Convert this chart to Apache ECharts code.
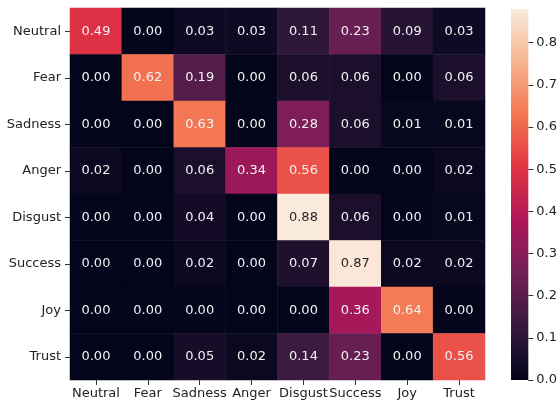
<!DOCTYPE html>
<html>
<head>
<meta charset="utf-8">
<script src="https://cdn.jsdelivr.net/npm/echarts@6/dist/echarts.min.js"></script>
<style>html,body{margin:0;padding:0;background:#fff;}#c{width:560px;height:405px;}</style>
</head>
<body>
<div id="c"></div>
<script>
var categories = ['Neutral','Fear','Sadness','Anger','Disgust','Success','Joy','Trust'];
var row_Neutral = [0.49,0.00,0.03,0.03,0.11,0.23,0.09,0.03];
var row_Fear    = [0.00,0.62,0.19,0.00,0.06,0.06,0.00,0.06];
var row_Sadness = [0.00,0.00,0.63,0.00,0.28,0.06,0.01,0.01];
var row_Anger   = [0.02,0.00,0.06,0.34,0.56,0.00,0.00,0.02];
var row_Disgust = [0.00,0.00,0.04,0.00,0.88,0.06,0.00,0.01];
var row_Success = [0.00,0.00,0.02,0.00,0.07,0.87,0.02,0.02];
var row_Joy     = [0.00,0.00,0.00,0.00,0.00,0.36,0.64,0.00];
var row_Trust   = [0.00,0.00,0.05,0.02,0.14,0.23,0.00,0.56];
var rows = [row_Neutral,row_Fear,row_Sadness,row_Anger,row_Disgust,row_Success,row_Joy,row_Trust];
var colorbarTicks = [0,0.1,0.2,0.3,0.4,0.5,0.6,0.7,0.8];
var vMin = 0, vMax = 0.88;
var rocket = ['#03051a','#35193e','#701f57','#ad1759','#e13342','#f37651','#f6b48f','#faebdd'];

var FONT = 'DejaVu Sans';
var data = [];
rows.forEach(function(r, yi){
  r.forEach(function(v, xi){
    data.push({value:[xi, yi, v], label:{color: v > 0.75 ? '#262626' : '#f2f2f2'}});
  });
});
var stops = rocket.map(function(c,i){return {offset:i/(rocket.length-1), color:c};});

var chart = echarts.init(document.getElementById('c'), null, {renderer:'canvas'});
chart.setOption({
  animation:false,
  backgroundColor:'#fff',
  textStyle:{fontFamily:FONT},
  grid:[
    {left:70, top:8, width:415, height:372},
    {left:511, top:9, width:18, height:371}
  ],
  xAxis:[
    {type:'category', data:categories, gridIndex:0, position:'bottom',
     axisLine:{show:false}, splitLine:{show:false},
     axisTick:{show:true, length:5, alignWithLabel:true, lineStyle:{color:'#333'}},
     axisLabel:{fontFamily:FONT, fontSize:13, color:'#222', margin:7, interval:0}},
    {type:'category', data:['cb'], gridIndex:1, show:false}
  ],
  yAxis:[
    {type:'category', data:categories, gridIndex:0, inverse:true,
     axisLine:{show:false}, splitLine:{show:false},
     axisTick:{show:true, length:5, alignWithLabel:true, lineStyle:{color:'#333'}},
     axisLabel:{fontFamily:FONT, fontSize:13, color:'#222', margin:9, interval:0}},
    {type:'value', gridIndex:1, min:vMin, max:vMax, position:'right',
     axisLine:{show:false}, splitLine:{show:false},
     axisTick:{show:true, length:5, lineStyle:{color:'#333'}, customValues:colorbarTicks},
     axisLabel:{fontFamily:FONT, fontSize:13, color:'#222', margin:8,
       customValues:colorbarTicks, formatter:function(v){return v.toFixed(1);}}}
  ],
  visualMap:{type:'continuous', min:vMin, max:vMax, show:false, seriesIndex:0, inRange:{color:rocket}},
  series:[
    {type:'heatmap', xAxisIndex:0, yAxisIndex:0, data:data,
     label:{show:true, fontFamily:FONT, fontSize:13, formatter:function(p){return p.value[2].toFixed(2);}},
     itemStyle:{borderWidth:0}, emphasis:{disabled:true}},
    {type:'bar', xAxisIndex:1, yAxisIndex:1, data:[vMax], barWidth:'100%', silent:true,
     itemStyle:{color:new echarts.graphic.LinearGradient(0,1,0,0,stops)}}
  ]
});
</script>
</body>
</html>
